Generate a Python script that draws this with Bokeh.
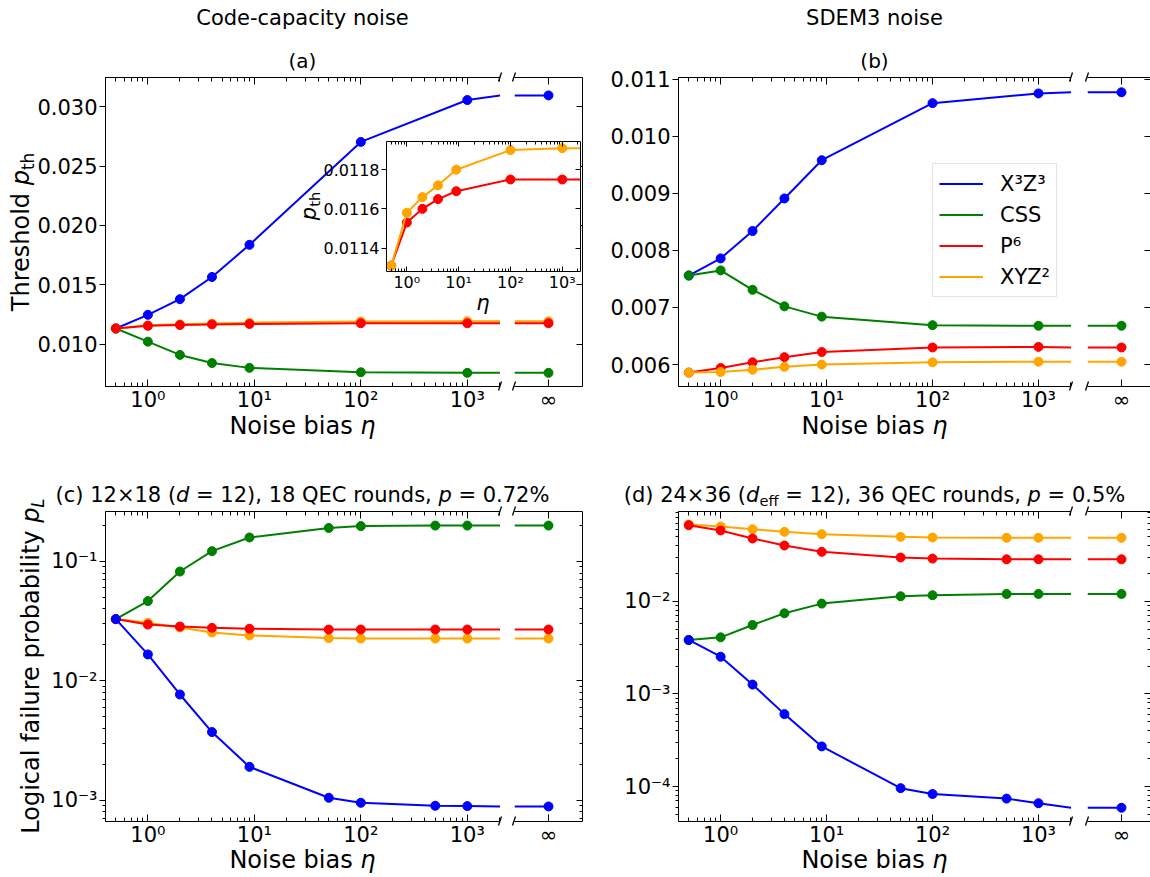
from bokeh.plotting import figure
from bokeh.models import (Range1d, FixedTicker, LogAxis, LinearAxis, NumeralTickFormatter,
                          Legend, LegendItem, GridBox, Div)
from bokeh.embed import file_html
from bokeh.resources import INLINE

FONT = "DejaVu Sans"

# ---------------------------------------------------------------- data
SERIES_KEYS = ["X3Z3", "CSS", "P6", "XYZ2"]
SERIES_LABELS = ["X³Z³", "CSS", "P⁶", "XYZ²"]
SERIES_COLORS = ["#0000ff", "#008000", "#ff0000", "#ffa500"]

ETA_AB = [0.5, 1, 2, 4, 9, 100, 1000]
ETA_CD = [0.5, 1, 2, 4, 9, 50, 100, 500, 1000]

# (a) code-capacity threshold
A_X3Z3 = [0.01131, 0.01246, 0.01378, 0.01565, 0.01836, 0.02703, 0.03056]
A_CSS = [0.01131, 0.01020, 0.00908, 0.00840, 0.00799, 0.00762, 0.00757]
A_P6 = [0.01131, 0.01153, 0.01160, 0.01165, 0.01169, 0.01175, 0.01175]
A_XYZ2 = [0.01131, 0.01158, 0.01166, 0.01172, 0.01180, 0.01190, 0.01191]
A_INF = [0.03095, 0.00757, 0.01175, 0.01191]

# (b) SDEM3 threshold
B_X3Z3 = [0.00756, 0.00786, 0.00834, 0.00891, 0.00958, 0.01058, 0.01075]
B_CSS = [0.00756, 0.00765, 0.00731, 0.00702, 0.00684, 0.00669, 0.00668]
B_P6 = [0.00586, 0.00594, 0.00604, 0.00613, 0.00622, 0.00630, 0.00631]
B_XYZ2 = [0.00586, 0.00587, 0.00591, 0.00596, 0.00600, 0.00604, 0.00605]
B_INF = [0.01077, 0.00668, 0.00630, 0.00605]

# (c) logical failure probability, 12x18
C_X3Z3 = [0.0329, 0.01663, 0.00768, 0.00372, 0.00190, 0.001046, 0.00095, 0.000897, 0.000891]
C_CSS = [0.0329, 0.0466, 0.0824, 0.122, 0.159, 0.191, 0.198, 0.200, 0.200]
C_P6 = [0.0329, 0.0296, 0.0285, 0.0278, 0.0273, 0.0269, 0.0269, 0.0269, 0.0269]
C_XYZ2 = [0.0329, 0.0306, 0.0280, 0.0254, 0.0240, 0.0228, 0.0226, 0.0226, 0.0226]
C_INF = [0.000885, 0.200, 0.0269, 0.0226]

# (d) logical failure probability, 24x36
D_X3Z3 = [0.00382, 0.00252, 0.00126, 0.000605, 0.000271, 9.6e-5, 8.3e-5, 7.4e-5, 6.6e-5]
D_CSS = [0.00382, 0.00408, 0.00555, 0.00742, 0.00944, 0.01132, 0.01161, 0.0120, 0.0120]
D_P6 = [0.0663, 0.0581, 0.0476, 0.0400, 0.0342, 0.0297, 0.0289, 0.0284, 0.0284]
D_XYZ2 = [0.0674, 0.0642, 0.0600, 0.0562, 0.0530, 0.0496, 0.0488, 0.0484, 0.0484]
D_INF = [5.9e-5, 0.0120, 0.0284, 0.0484]

# tick labels
X_MAJOR = [1, 10, 100, 1000]
X_LABELS = {1: "10⁰", 10: "10¹", 100: "10²", 1000: "10³"}
INF_POS = 0
INF_LABEL = "∞"
Y_LOG_MAJOR = [1e-4, 1e-3, 1e-2, 1e-1]
Y_LOG_LABELS = {1e-4: "10⁻⁴", 1e-3: "10⁻³", 1e-2: "10⁻²", 1e-1: "10⁻¹"}
A_TICKS = [0.010, 0.015, 0.020, 0.025, 0.030]
B_TICKS = [0.006, 0.007, 0.008, 0.009, 0.010, 0.011]
INSET_TICKS = [0.0114, 0.0116, 0.0118]


def pack(vals, infs):
    return {k: (v, i) for k, v, i in zip(SERIES_KEYS, vals, infs)}


DATA_A = pack([A_X3Z3, A_CSS, A_P6, A_XYZ2], A_INF)
DATA_B = pack([B_X3Z3, B_CSS, B_P6, B_XYZ2], B_INF)
DATA_C = pack([C_X3Z3, C_CSS, C_P6, C_XYZ2], C_INF)
DATA_D = pack([D_X3Z3, D_CSS, D_P6, D_XYZ2], D_INF)
COLOR = dict(zip(SERIES_KEYS, SERIES_COLORS))
LABEL = dict(zip(SERIES_KEYS, SERIES_LABELS))

# ---------------------------------------------------------------- geometry
XMIN, XMAX = 0.4, 2050
X_MINOR = [m * 10.0 ** e for e in range(-1, 4) for m in range(2, 10) if XMIN <= m * 10.0 ** e <= XMAX]
Y_LOG_MINOR = [m * 10.0 ** e for e in range(-5, 0) for m in range(2, 10)]

TOP_BT, TOP_FH, TOP_BB = 77, 309, 64
BOT_BT, BOT_FH, BOT_BB = 61, 310, 56


def style_axis(ax, major_in, major_out, minor_in, minor_out, label_size=None, standoff=3, ticks=None):
    ax.axis_line_color = "black"
    ax.axis_line_width = 1
    ax.major_tick_line_color = "black"
    ax.minor_tick_line_color = "black"
    ax.major_tick_line_width = 1
    ax.minor_tick_line_width = 1
    ax.major_tick_in = major_in
    ax.major_tick_out = major_out
    ax.minor_tick_in = minor_in
    ax.minor_tick_out = minor_out
    ax.major_label_text_font = FONT
    ax.major_label_text_color = "black"
    if label_size:
        ax.major_label_text_font_size = label_size
        ax.major_label_standoff = standoff
    else:
        ax.major_label_text_font_size = "2px"
        ax.major_label_standoff = 0
        ax.major_label_overrides = {t: "" for t in ticks}


def base_style(p):
    p.outline_line_color = None
    p.xgrid.visible = False
    p.ygrid.visible = False
    p.background_fill_color = "white"
    p.border_fill_color = "white"


def make_left(width, height, bl, bt, bb, y_range, ylog, yticks, yminor, ylabels=None, yfmt=None):
    p = figure(width=width, height=height, x_axis_type="log",
               y_axis_type="log" if ylog else "linear",
               x_range=Range1d(XMIN, XMAX), y_range=Range1d(*y_range),
               output_backend="svg", toolbar_location=None,
               min_border_left=bl, min_border_right=0, min_border_top=bt, min_border_bottom=bb)
    base_style(p)
    xa = p.xaxis[0]
    xa.ticker = FixedTicker(ticks=X_MAJOR, minor_ticks=X_MINOR)
    xa.major_label_overrides = X_LABELS
    style_axis(xa, 7, 0, 4, 0, "21px", 1)
    top = LogAxis(ticker=FixedTicker(ticks=X_MAJOR, minor_ticks=X_MINOR))
    style_axis(top, 7, 0, 4, 0, None, ticks=X_MAJOR)
    p.add_layout(top, "above")
    ya = p.yaxis[0]
    ya.ticker = FixedTicker(ticks=yticks, minor_ticks=yminor)
    if ylabels:
        ya.major_label_overrides = ylabels
    if yfmt:
        ya.formatter = NumeralTickFormatter(format=yfmt)
    style_axis(ya, 0, 6, 0, 3, "21px", 2)
    return p


def make_right(width, height, bl, br, bt, bb, x_range, y_range, ylog, yticks, yminor):
    p = figure(width=width, height=height, y_axis_type="log" if ylog else "linear",
               x_range=Range1d(*x_range), y_range=Range1d(*y_range),
               y_axis_location="right", output_backend="svg", toolbar_location=None,
               min_border_left=bl, min_border_right=br, min_border_top=bt, min_border_bottom=bb)
    base_style(p)
    xa = p.xaxis[0]
    xa.ticker = FixedTicker(ticks=[INF_POS], minor_ticks=[])
    xa.major_label_overrides = {INF_POS: INF_LABEL}
    style_axis(xa, 7, 0, 0, 0, "21px", 1)
    top = LinearAxis(ticker=FixedTicker(ticks=[INF_POS], minor_ticks=[]))
    style_axis(top, 7, 0, 0, 0, None, ticks=[INF_POS])
    p.add_layout(top, "above")
    ya = p.yaxis[0]
    ya.ticker = FixedTicker(ticks=yticks, minor_ticks=yminor)
    style_axis(ya, 6, 0, 3, 0, None, ticks=yticks)
    return p


def plot_series(pl, pr, eta, data, order):
    lines = {}
    x_end = pl.x_range.end
    xr0 = pr.x_range.start
    for key in order:
        vals, inf = data[key]
        c = COLOR[key]
        lines[key] = pl.line(eta + [x_end], vals + [inf], line_color=c, line_width=2)
        pl.scatter(eta, vals, size=9, fill_color=c, line_color=c)
        pr.line([xr0, INF_POS], [inf, inf], line_color=c, line_width=2)
        pr.scatter([INF_POS], [inf], size=9, fill_color=c, line_color=c)
    return lines


# ---------------------------------------------------------------- panel (a)
A_YR = (0.00642, 0.03246)
fa_L = make_left(500, 450, 105, TOP_BT, TOP_BB, A_YR, False, A_TICKS, [], yfmt="0.000")
fa_R = make_right(100, 450, 14, 18, TOP_BT, TOP_BB, (-1, 1), A_YR, False, A_TICKS, [])
plot_series(fa_L, fa_R, ETA_AB, DATA_A, ["X3Z3", "CSS", "XYZ2", "P6"])

# ---------------------------------------------------------------- panel (b)
B_YR = (0.005616, 0.011029)
fb_L = make_left(471, 450, 78, TOP_BT, TOP_BB, B_YR, False, B_TICKS, [], yfmt="0.000")
fb_R = make_right(79, 450, 16, 0, TOP_BT, TOP_BB, (-1, -1 + 63 / 34), B_YR, False, B_TICKS, [])
b_lines = plot_series(fb_L, fb_R, ETA_AB, DATA_B, ["X3Z3", "CSS", "P6", "XYZ2"])
legend = Legend(items=[LegendItem(label=LABEL[k], renderers=[b_lines[k]]) for k in SERIES_KEYS],
                location=(254, 89), margin=0, padding=6, spacing=4,
                glyph_width=44, glyph_height=27, label_height=27, label_standoff=17,
                label_text_font=FONT, label_text_font_size="21px", label_text_color="black",
                border_line_color="#cccccc", border_line_width=1,
                background_fill_color="white", background_fill_alpha=0.8)
fb_L.add_layout(legend)

# ---------------------------------------------------------------- panel (c)
C_YR = (6.62e-4, 0.2624)
fc_L = make_left(500, 427, 105, BOT_BT, BOT_BB, C_YR, True, Y_LOG_MAJOR, Y_LOG_MINOR, ylabels=Y_LOG_LABELS)
fc_R = make_right(100, 427, 14, 18, BOT_BT, BOT_BB, (-1, 1), C_YR, True, Y_LOG_MAJOR, Y_LOG_MINOR)
plot_series(fc_L, fc_R, ETA_CD, DATA_C, ["CSS", "XYZ2", "P6", "X3Z3"])

# ---------------------------------------------------------------- panel (d)
D_YR = (4.19e-5, 0.0932)
fd_L = make_left(471, 427, 78, BOT_BT, BOT_BB, D_YR, True, Y_LOG_MAJOR, Y_LOG_MINOR, ylabels=Y_LOG_LABELS)
fd_R = make_right(79, 427, 16, 0, BOT_BT, BOT_BB, (-1, -1 + 63 / 34), D_YR, True, Y_LOG_MAJOR, Y_LOG_MINOR)
plot_series(fd_L, fd_R, ETA_CD, DATA_D, ["CSS", "X3Z3", "XYZ2", "P6"])

# ---------------------------------------------------------------- inset in (a)
ins = figure(width=290, height=199, x_axis_type="log",
             x_range=Range1d(0.405, 2250), y_range=Range1d(0.01128, 0.011944),
             output_backend="svg", toolbar_location=None,
             min_border_left=86, min_border_right=10, min_border_top=20, min_border_bottom=49)
ins.outline_line_color = None
ins.xgrid.visible = False
ins.ygrid.visible = False
ins.background_fill_color = "white"
ins.border_fill_color = None
ixa = ins.xaxis[0]
ixa.ticker = FixedTicker(ticks=X_MAJOR, minor_ticks=X_MINOR)
ixa.major_label_overrides = X_LABELS
style_axis(ixa, 5, 0, 3, 0, "16px", 1)
itop = LogAxis(ticker=FixedTicker(ticks=X_MAJOR, minor_ticks=X_MINOR))
style_axis(itop, 5, 0, 3, 0, None, ticks=X_MAJOR)
ins.add_layout(itop, "above")
iya = ins.yaxis[0]
iya.ticker = FixedTicker(ticks=INSET_TICKS, minor_ticks=[])
iya.formatter = NumeralTickFormatter(format="0.0000")
style_axis(iya, 0, 5, 0, 0, "16px", 2)
iright = LinearAxis(ticker=FixedTicker(ticks=INSET_TICKS, minor_ticks=[]))
style_axis(iright, 5, 0, 0, 0, None, ticks=INSET_TICKS)
ins.add_layout(iright, "right")
for key in ["P6", "XYZ2"]:
    vals, inf = DATA_A[key]
    ins.line(ETA_AB + [ins.x_range.end], vals + [inf], line_color=COLOR[key], line_width=2)
    ins.scatter(ETA_AB, vals, size=9, fill_color=COLOR[key], line_color=COLOR[key])

# ---------------------------------------------------------------- titles, axis labels, break marks
SUB = '<span style="font-size:70%;position:relative;top:0.3em;">{}</span>'


def tag(cx, cy, fs, html, rotate=False):
    tr = "translate(-50%,-50%)" + (" rotate(-90deg)" if rotate else "")
    return (f'<div style="position:absolute;left:{cx}px;top:{cy}px;transform:{tr};'
            f"font-family:'DejaVu Sans';font-size:{fs}px;line-height:1;white-space:nowrap;"
            f'color:black;">{html}</div>')


NOISE_BIAS = "Noise bias <i>η</i>"
texts = [
    tag(302.5, 17.7, 21, "Code-capacity noise"),
    tag(874.5, 17.7, 21, "SDEM3 noise"),
    tag(302.5, 61, 20, "(a)"),
    tag(874.5, 61, 20, "(b)"),
    tag(302.5, 426, 24, NOISE_BIAS),
    tag(874.5, 426, 24, NOISE_BIAS),
    tag(302.5, 860, 24, NOISE_BIAS),
    tag(874.5, 860, 24, NOISE_BIAS),
    tag(302.5, 494.7, 21, "(c) 12×18 (<i>d</i> = 12), 18 QEC rounds, <i>p</i> = 0.72%"),
    tag(874.5, 494.7, 21, "(d) 24×36 (<i>d</i>" + SUB.format("eff") + " = 12), 36 QEC rounds, <i>p</i> = 0.5%"),
    tag(20.7, 231.5, 24, "Threshold <i>p</i>" + SUB.format("th"), rotate=True),
    tag(30.7, 666, 24, "Logical failure probability <i>p</i>" + SUB.format("<i>L</i>"), rotate=True),
    tag(308.7, 206, 21, "<i>p</i>" + SUB.format("th"), rotate=True),
    tag(483, 303, 21, "<i>η</i>"),
]

# break marks ("/ /") where the x axis is cut: (x of cut edge, y of spine)
BREAK_X = [500, 514, 1071, 1087]
BREAK_Y = [77, 386, 511, 821]
marks = "".join(
    f'<line x1="{x - 1.5}" y1="{y + 4.5}" x2="{x + 1.5}" y2="{y - 4.5}" stroke="black" stroke-width="1.3"/>'
    for x in BREAK_X for y in BREAK_Y)
svg = f'<svg width="1150" height="877" style="position:absolute;left:0;top:0;">{marks}</svg>'

overlay = Div(text='<div style="position:relative;width:1150px;height:877px;pointer-events:none;">'
                   + svg + "".join(texts) + "</div>",
              width=1150, height=877, margin=(0, 0, 0, 0))

# ---------------------------------------------------------------- layout
grid = GridBox(children=[
    (fa_L, 0, 0, 3, 2), (fa_R, 0, 2, 3, 2), (fb_L, 0, 4, 3, 1), (fb_R, 0, 5, 3, 1),
    (fc_L, 3, 0, 1, 2), (fc_R, 3, 2, 1, 2), (fd_L, 3, 4, 1, 1), (fd_R, 3, 5, 1, 1),
    (ins, 1, 1, 1, 2), (overlay, 0, 0, 4, 6)],
    rows=["121px", "199px", "130px", "427px"],
    cols=["300px", "200px", "90px", "10px", "471px", "79px"],
    spacing=0)

with open("out.html", "w") as f:
    f.write(file_html(grid, INLINE))
